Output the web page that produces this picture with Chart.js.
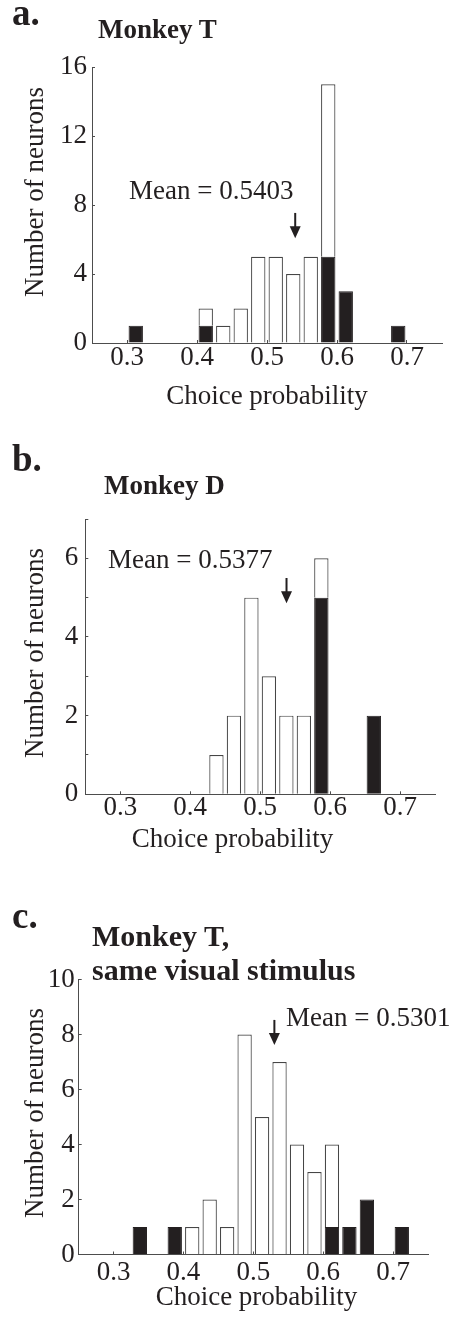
<!DOCTYPE html>
<html>
<head>
<meta charset="utf-8">
<script src="https://cdn.jsdelivr.net/npm/chart.js@4.4.1/dist/chart.umd.min.js"></script>
<style>
  body { margin: 0; background: #fff; }
  #page { position: relative; width: 451px; height: 1321px; overflow: hidden;
          font-family: 'Liberation Serif', 'Times New Roman', serif; color: #231f20; }
  #page canvas { position: absolute; left: 0; }
  .txt { position: absolute; line-height: 1; white-space: nowrap; font-size: 27px; }
  .bold { font-weight: bold; }
  .letter { font-size: 37px; }
  .ytitle { transform: translate(-50%, -50%) rotate(-90deg); }
  .xtitle { transform: translateX(-50%); }
</style>
</head>
<body>
<div id="page">
  <canvas id="chartA" width="451" height="420" style="top:0px"></canvas>
  <canvas id="chartB" width="451" height="420" style="top:420px"></canvas>
  <canvas id="chartC" width="451" height="481" style="top:840px"></canvas>

  <!-- panel a -->
  <div class="txt bold letter" style="left:12px; top:-5.8px">a.</div>
  <div class="txt bold" style="left:98px; top:16.4px">Monkey T</div>
  <div class="txt" style="left:129px; top:177.4px">Mean = 0.5403</div>
  <div class="txt ytitle" style="left:34px; top:192px">Number of neurons</div>
  <div class="txt xtitle" style="left:267px; top:382.4px">Choice probability</div>

  <!-- panel b -->
  <div class="txt bold letter" style="left:12px; top:439.9px">b.</div>
  <div class="txt bold" style="left:104px; top:472.4px">Monkey D</div>
  <div class="txt" style="left:108px; top:545.7px">Mean = 0.5377</div>
  <div class="txt ytitle" style="left:34px; top:653px">Number of neurons</div>
  <div class="txt xtitle" style="left:232.5px; top:825.1px">Choice probability</div>

  <!-- panel c -->
  <div class="txt bold letter" style="left:12px; top:896.5px">c.</div>
  <div class="txt bold" style="left:92px; top:920.9px; font-size:30px">Monkey T,</div>
  <div class="txt bold" style="left:92px; top:954.9px; font-size:30px">same visual stimulus</div>
  <div class="txt" style="left:286px; top:1004.1px">Mean = 0.5301</div>
  <div class="txt ytitle" style="left:34px; top:1112.5px">Number of neurons</div>
  <div class="txt xtitle" style="left:256.5px; top:1283.4px">Choice probability</div>
</div>

<script>
// bin centres of the choice probability histogram (bin width 0.025)
const binCenters = [0.2625, 0.2875, 0.3125, 0.3375, 0.3625, 0.3875, 0.4125, 0.4375, 0.4625, 0.4875,
                    0.5125, 0.5375, 0.5625, 0.5875, 0.6125, 0.6375, 0.6625, 0.6875, 0.7125, 0.7375];
const xTickValues = [0.3, 0.4, 0.5, 0.6, 0.7];

// Monkey T
const blackA = [0, 0, 1, 0, 0, 0, 1, 0, 0, 0, 0, 0, 0, 5, 3, 0, 0, 1, 0, 0];
const whiteA = [0, 0, 0, 0, 0, 0, 1, 1, 2, 5, 5, 4, 5, 10, 0, 0, 0, 0, 0, 0];
const meanA = 0.5403;
const yTicksA = [0, 2, 4, 6, 8, 10, 12, 14, 16];
const yLabelsA = [0, 4, 8, 12, 16];

// Monkey D
const blackB = [0, 0, 0, 0, 0, 0, 0, 0, 0, 0, 0, 0, 0, 5, 0, 0, 2, 0, 0, 0];
const whiteB = [0, 0, 0, 0, 0, 0, 0, 1, 2, 5, 3, 2, 2, 1, 0, 0, 0, 0, 0, 0];
const meanB = 0.5377;
const yTicksB = [0, 1, 2, 3, 4, 5, 6, 7];
const yLabelsB = [0, 2, 4, 6];

// Monkey T, same visual stimulus
const blackC = [0, 0, 0, 1, 0, 1, 0, 0, 0, 0, 0, 0, 0, 0, 1, 1, 2, 0, 1, 0];
const whiteC = [0, 0, 0, 0, 0, 0, 1, 2, 1, 8, 5, 7, 4, 3, 3, 0, 0, 0, 0, 0];
const meanC = 0.5301;
const yTicksC = [0, 2, 4, 6, 8, 10];
const yLabelsC = [0, 2, 4, 6, 8, 10];

const ink = '#231f20';
const axisGray = '#4d4d4d';

Chart.defaults.font.family = "'Liberation Serif', 'Times New Roman', serif";
Chart.defaults.color = ink;

// small downward arrow above the histogram at the mean
const meanArrow = {
    id: 'meanArrow',
    afterDatasetsDraw(chart, args, opts) {
        const ctx = chart.ctx;
        const x = chart.scales.x.getPixelForValue(opts.value);
        const yTop = chart.scales.y.getPixelForValue(opts.top);
        const yTip = chart.scales.y.getPixelForValue(opts.tip);
        ctx.save();
        ctx.strokeStyle = ink;
        ctx.fillStyle = ink;
        ctx.lineWidth = 2;
        ctx.beginPath();
        ctx.moveTo(x, yTop);
        ctx.lineTo(x, yTip - 10);
        ctx.stroke();
        ctx.beginPath();
        ctx.moveTo(x - 5.5, yTip - 12);
        ctx.lineTo(x + 5.5, yTip - 12);
        ctx.lineTo(x, yTip);
        ctx.closePath();
        ctx.fill();
        ctx.restore();
    }
};

function makeHistogram(canvasId, black, white, cfg) {
    const ctx = document.getElementById(canvasId).getContext('2d');
    return new Chart(ctx, {
        type: 'bar',
        data: {
            labels: binCenters,
            datasets: [
                {
                    label: 'black',
                    data: black,
                    backgroundColor: ink,
                    borderColor: ink,
                    borderWidth: 1,
                    barPercentage: 0.82,
                    categoryPercentage: 1.0
                },
                {
                    label: 'white',
                    data: white,
                    backgroundColor: '#ffffff',
                    borderColor: '#464646',
                    borderWidth: 1.2,
                    barPercentage: 0.82,
                    categoryPercentage: 1.0
                }
            ]
        },
        options: {
            responsive: false,
            animation: false,
            layout: { padding: cfg.padding },
            plugins: {
                legend: { display: false },
                tooltip: { enabled: false },
                meanArrow: cfg.arrow
            },
            scales: {
                x: {
                    type: 'linear',
                    stacked: true,
                    offset: false,
                    min: 0.25,
                    max: 0.75,
                    afterBuildTicks: s => { s.ticks = xTickValues.map(v => ({ value: v })); },
                    afterFit: s => { s.height = cfg.xHeight; },
                    grid: { display: true, offset: false, drawOnChartArea: false, drawTicks: true,
                            tickLength: -3, color: axisGray },
                    border: { display: true, color: axisGray, width: 1 },
                    ticks: {
                        font: { size: 27 },
                        padding: cfg.xTickPad,
                        maxRotation: 0,
                        callback: v => v.toFixed(1)
                    }
                },
                y: {
                    stacked: true,
                    min: 0,
                    max: cfg.yMax,
                    afterBuildTicks: s => { s.ticks = cfg.yTicks.map(v => ({ value: v })); },
                    afterFit: s => { s.width = cfg.yWidth; },
                    grid: { display: true, drawOnChartArea: false, drawTicks: true,
                            tickLength: -3, color: axisGray },
                    border: { display: true, color: axisGray, width: 1 },
                    ticks: {
                        font: { size: 27 },
                        padding: cfg.yTickPad,
                        callback: v => cfg.yLabels.includes(v) ? String(v) : ''
                    }
                }
            }
        },
        plugins: [meanArrow]
    });
}

makeHistogram('chartA', blackA, whiteA, {
    padding: { left: 0, top: 67, right: 9, bottom: 0 },
    yWidth: 92, xHeight: 77,
    yMax: 16, yTicks: yTicksA, yLabels: yLabelsA,
    xTickPad: 1.8, yTickPad: 8,
    arrow: { value: meanA, top: 7.54, tip: 6.07 }
});

makeHistogram('chartB', blackB, whiteB, {
    padding: { left: 0, top: 99, right: 16, bottom: 0 },
    yWidth: 85.3, xHeight: 45.7,
    yMax: 7, yTicks: yTicksB, yLabels: yLabelsB,
    xTickPad: 0, yTickPad: 10,
    arrow: { value: meanB, top: 5.5, tip: 4.86 }
});

makeHistogram('chartC', blackC, whiteC, {
    padding: { left: 0, top: 139.5, right: 23, bottom: 0 },
    yWidth: 78.7, xHeight: 66.5,
    yMax: 10, yTicks: yTicksC, yLabels: yLabelsC,
    xTickPad: 4.8, yTickPad: 7,
    arrow: { value: meanC, top: 8.53, tip: 7.62 }
});
</script>
</body>
</html>
